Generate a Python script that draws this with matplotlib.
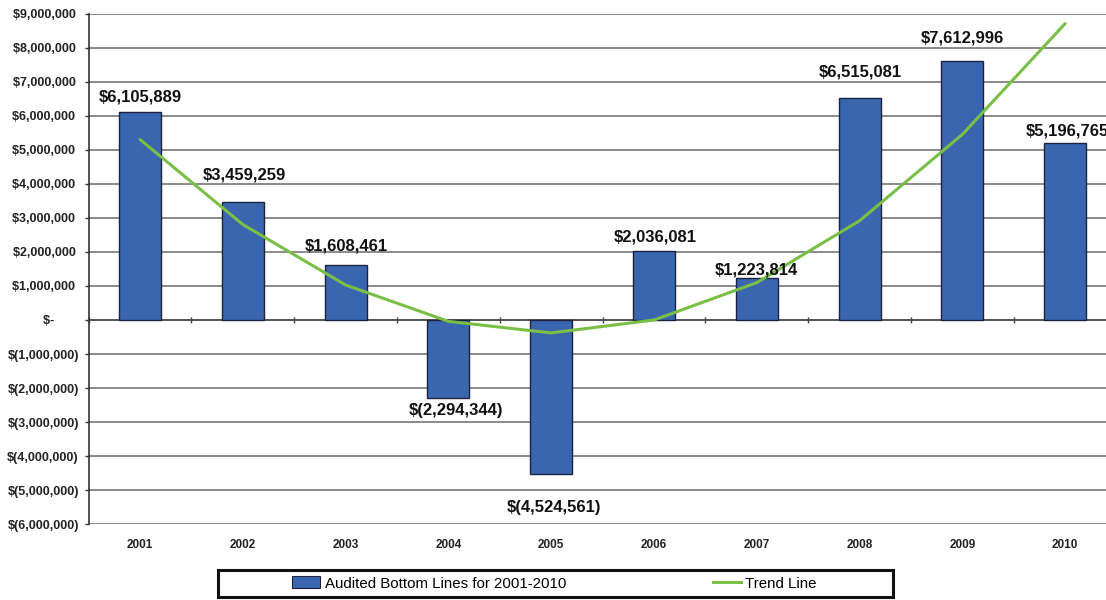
import numpy as np
import matplotlib
matplotlib.use("Agg")
import matplotlib.pyplot as plt
import matplotlib.ticker as mticker
from matplotlib.patches import Rectangle, Patch
from matplotlib.lines import Line2D

plt.rcParams["font.family"] = ["Liberation Sans", "DejaVu Sans"]

# ---------------------------------------------------------------- data
years = ["2001", "2002", "2003", "2004", "2005", "2006", "2007", "2008", "2009", "2010"]
bottom_lines = [6105889, 3459259, 1608461, -2294344, -4524561,
                2036081, 1223814, 6515081, 7612996, 5196765]
# trend line (millions)
trend_m = [5.31, 2.81, 1.03, -0.04, -0.38, 0.00, 1.10, 2.92, 5.46, 8.72]
# label distance from bar end, pixels (layout)
label_gap = [15, 27, 19, 12, 34, 14, 8, 26, 23, 12]
label_dx = [0, 2, 1, 8, 3, 1, 0, 1, 0, 2]

C_BAR = "#3a66b0"
C_EDGE = "#1c2340"
C_TREND = "#7abf45"
C_GRID = "#6b6b6b"


def acct(v, pos=None):
    # Excel accounting style, labels line up on the closing paren
    if v == 0:
        return "$-" + " " * 7
    s = f"{abs(v):,.0f}"
    return f"$({s})" if v < 0 else f"${s} "


def label(v):
    s = f"{abs(v):,.0f}"
    return f"$({s})" if v < 0 else f"${s}"


fig = plt.figure(figsize=(11.06, 6.0), dpi=100)
ax = fig.add_axes([88.6 / 1106, 1 - 524 / 600, 1028 / 1106, 510 / 600])

x = np.arange(len(years))
ax.bar(x, bottom_lines, width=0.41, color=C_BAR, edgecolor=C_EDGE, lw=1.0, zorder=3)
ax.plot(x, np.array(trend_m) * 1e6, color=C_TREND, lw=2.2, zorder=4,
        solid_capstyle="round", solid_joinstyle="round")

for i, v in enumerate(bottom_lines):
    up = v >= 0
    ax.annotate(label(v), xy=(x[i], v), xytext=(label_dx[i], label_gap[i] if up else -label_gap[i]),
                textcoords="offset pixels", ha="center", va="center",
                fontsize=12, fontweight="bold", color="#111111", zorder=5,
                annotation_clip=False)

ax.set_xlim(-0.5, len(years) - 0.5)
ax.set_ylim(-6e6, 9e6)
ax.yaxis.set_major_locator(mticker.MultipleLocator(1e6))
ax.yaxis.set_major_formatter(mticker.FuncFormatter(acct))
ax.tick_params(axis="y", length=3, width=1, pad=4, labelsize=9, color="#333333")
for lab in ax.get_yticklabels():
    lab.set_fontweight("bold")
    lab.set_color("#222222")
ax.grid(axis="y", color=C_GRID, lw=1.1, zorder=1)
ax.set_axisbelow(True)

# category axis line runs along zero, with ticks between categories
ax.spines["bottom"].set_position(("data", 0))
ax.spines["bottom"].set_color("#444444")
ax.spines["bottom"].set_linewidth(1.1)
ax.set_xticks(np.arange(-0.5, len(years)), minor=True)
ax.set_xticks([])
ax.tick_params(axis="x", which="minor", length=4, direction="inout", width=1, color="#444444")
ax.tick_params(axis="x", which="major", length=0, labelbottom=False)
for s in ["top", "right"]:
    ax.spines[s].set_visible(False)
ax.spines["left"].set_color("#333333")
ax.spines["left"].set_linewidth(1.2)

sec = ax.secondary_xaxis("bottom")
sec.set_xticks(x)
sec.set_xticklabels(years, fontsize=8.5, fontweight="bold", color="#222222")
sec.tick_params(length=0, pad=11)
sec.spines["bottom"].set_visible(False)

# legend with a heavy frame
handles = [Patch(fc=C_BAR, ec=C_EDGE, lw=0.8, label="Audited Bottom Lines for 2001-2010"),
           Line2D([], [], color=C_TREND, lw=2.2, label="Trend Line")]
fig.legend(handles=handles, loc="center", bbox_to_anchor=(554.5 / 1106, 1 - 583.5 / 600),
           ncol=2, frameon=False, fontsize=10.8, handlelength=1.85, handletextpad=0.3,
           columnspacing=9.8, handleheight=0.85)
fig.patches.append(Rectangle((218 / 1106, 1 - 597 / 600), 675 / 1106, 27 / 600,
                             transform=fig.transFigure, fill=False, ec="#111111", lw=2.2))

fig.savefig("out.png", dpi=100, facecolor="white")
